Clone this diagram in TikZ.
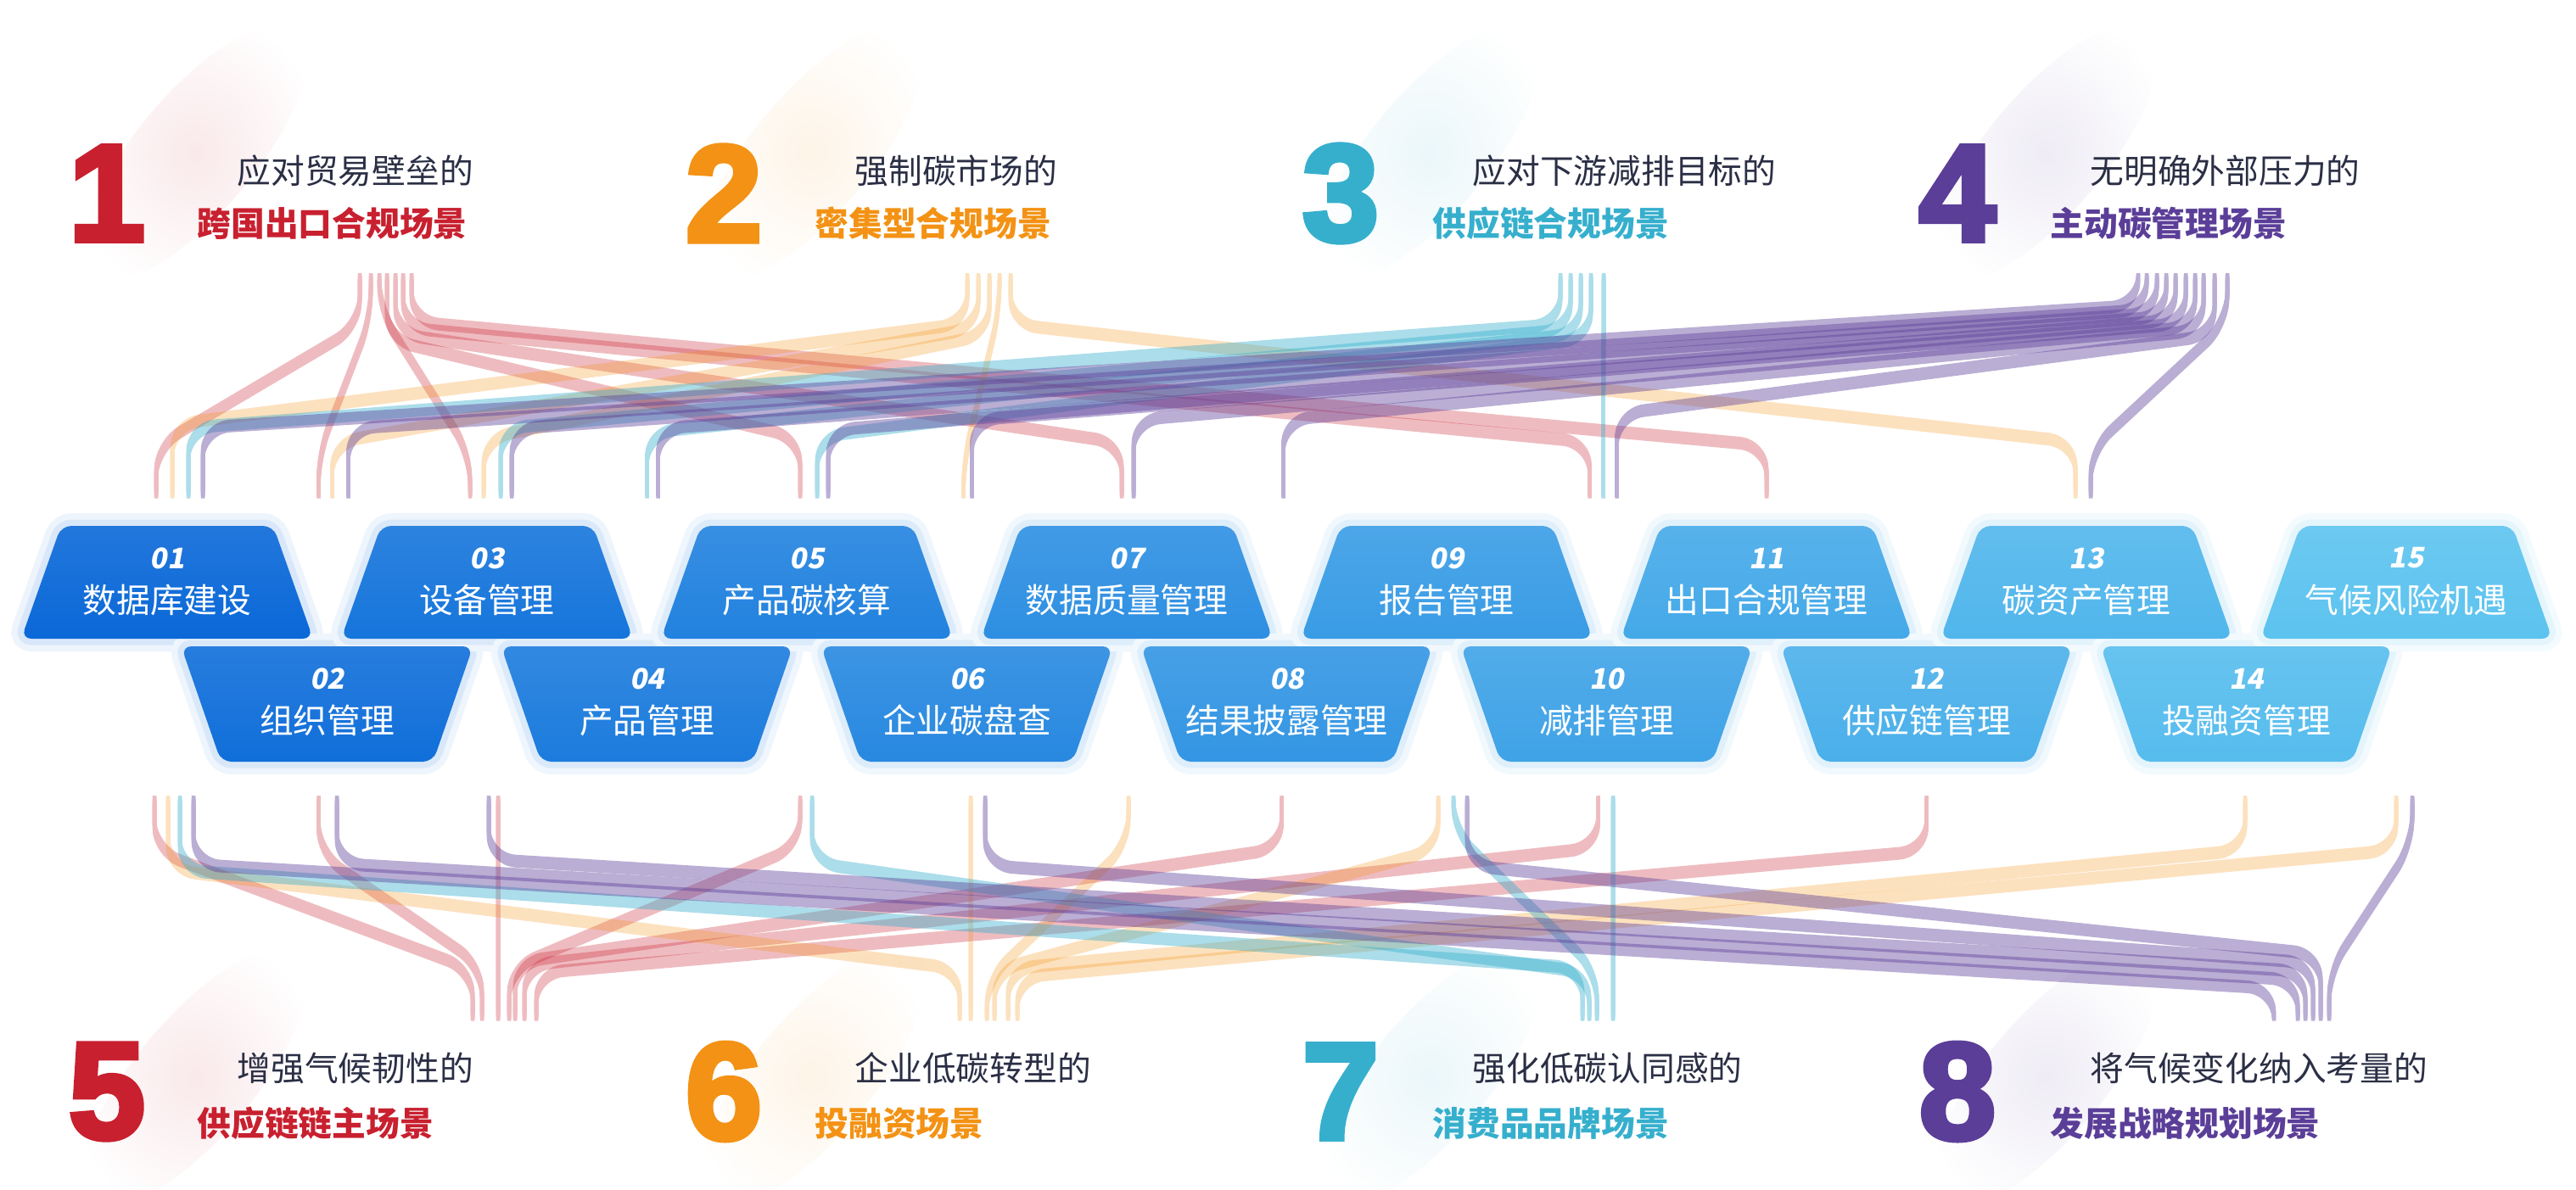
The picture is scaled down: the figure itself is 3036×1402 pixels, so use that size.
\documentclass[tikz,border=0pt]{standalone}
\usepackage{fontspec}
\usepackage{xcolor}
\usepackage{tikz}
\usetikzlibrary{calc}
\setmainfont{Noto Sans CJK SC}
\newfontfamily\numfont{Noto Sans CJK SC}[FakeSlant=0.18, BoldFeatures={FakeSlant=0.18}]
\newfontfamily\bigfont{Liberation Sans Bold}[FakeBold=4]

\definecolor{sred}{HTML}{C8202F}
\definecolor{sorange}{HTML}{F39214}
\definecolor{scyan}{HTML}{36AFCD}
\definecolor{spurple}{HTML}{5B3E98}
\definecolor{txtdark}{HTML}{2B2F45}
\definecolor{boxdark}{HTML}{0A68D8}
\definecolor{boxlight}{HTML}{5CC3EF}

\newcommand\flowband[7]{%
  \coordinate (fa) at ($(#2)+(#3,0)$);
  \coordinate (fb) at ($(#5)+(#6,0)$);
  \coordinate (fc) at (0,#4);
  \coordinate (fd) at (0,#7);
  \begin{scope}[transparency group, f#1]
    \foreach \sh in {0,1.5,3,4.5,6,7.5,9,10.5}
      \draw[flowline, draw=s#1, transform canvas={yshift=-\sh*0.1mm}] (fa) -- (fa |- fc) -- (fb |- fd) -- (fb);
  \end{scope}}

\newcommand\setmod[1]{%
  \pgfmathsetmacro\mx{197+188.5*(#1-1)}%
  \pgfmathsetmacro\mpct{100*(#1-1)/14}%
  \colorlet{boxc}{boxlight!\mpct!boxdark}%
  \ifodd#1\relax \def\mya{620}\def\myb{753}\def\mwa{125}\def\mwb{172}%
  \else \def\mya{762}\def\myb{898}\def\mwa{172}\def\mwb{125}\fi}

\def\modlist{01/数据库建设, 02/组织管理, 03/设备管理, 04/产品管理, 05/产品碳核算, 06/企业碳盘查, 07/数据质量管理, 08/结果披露管理, 09/报告管理, 10/减排管理, 11/出口合规管理, 12/供应链管理, 13/碳资产管理, 14/投融资管理, 15/气候风险机遇}

\begin{document}
\begin{tikzpicture}[x=0.01cm, y=-0.01cm]
\tikzstyle{flowline}=[line width=0.45mm, rounded corners=3.2mm]
\tikzstyle{fred}=[opacity=0.3]
\tikzstyle{forange}=[opacity=0.28]
\tikzstyle{fcyan}=[opacity=0.42]
\tikzstyle{fpurple}=[opacity=0.42]
\tikzstyle{modbox}=[rounded corners=1.2mm]
\tikzstyle{modnum}=[font=\numfont\bfseries\fontsize{9.5pt}{11pt}\selectfont, text=white, inner sep=0pt]
\tikzstyle{modlab}=[font=\fontsize{11.3pt}{13pt}\selectfont, text=white, inner sep=0pt]
\tikzstyle{bignum}=[font=\bigfont\fontsize{46pt}{50pt}\selectfont, inner sep=0pt]
\tikzstyle{scenea}=[font=\fontsize{11.3pt}{13pt}\selectfont, text=txtdark, inner sep=0pt, anchor=west]
\tikzstyle{sceneb}=[font=\fontsize{11.3pt}{13pt}\selectfont\bfseries, inner sep=0pt, anchor=west]

\useasboundingbox (0,0) rectangle (3036,1402);

\foreach \gx/\gy/\gc in {230/180/sred, 957/180/sorange, 1684/180/scyan, 2411/180/spurple, 230/1270/sred, 957/1270/sorange, 1684/1270/scyan, 2411/1270/spurple}
  \shade[inner color=\gc!10, outer color=white, rotate around={50:(\gx,\gy)}] (\gx,\gy) ellipse [x radius=190, y radius=70];

\foreach \mno/\mlab [count=\mi] in \modlist {
  \setmod{\mi}
  \draw[modbox, draw=boxc!7, line width=0.3cm] ({\mx-\mwa},\mya) -- ({\mx+\mwa},\mya) -- ({\mx+\mwb},\myb) -- ({\mx-\mwb},\myb) -- cycle;
  \draw[modbox, draw=boxc!16, line width=0.15cm] ({\mx-\mwa},\mya) -- ({\mx+\mwa},\mya) -- ({\mx+\mwb},\myb) -- ({\mx-\mwb},\myb) -- cycle;
}
\foreach \mno/\mlab [count=\mi] in \modlist {
  \setmod{\mi}
  \shade[modbox, top color=boxc!90!white, bottom color=boxc] ({\mx-\mwa},\mya) -- ({\mx+\mwa},\mya) -- ({\mx+\mwb},\myb) -- ({\mx-\mwb},\myb) -- cycle;
  \node[modnum] (m\mno) at (\mx,{\mya+38}) {\mno};
  \node[modlab] (m\mno-lab) at (\mx,{\mya+87}) {\mlab};
  \coordinate (m\mno-in) at (\mx,577);
  \coordinate (m\mno-out) at (\mx,938);
}

\foreach \sno/\scol/\sla/\slb [count=\sj] in {1/sred/应对贸易壁垒的/跨国出口合规场景, 2/sorange/强制碳市场的/密集型合规场景, 3/scyan/应对下游减排目标的/供应链合规场景, 4/spurple/无明确外部压力的/主动碳管理场景}{
  \pgfmathsetmacro\sx{126+727*(\sj-1)}
  \pgfmathsetmacro\tx{232+728*(\sj-1)}
  \node[bignum, text=\scol] (n\sno) at (\sx,228) {\sno};
  \node[scenea] (t\sno-a) at ({\tx+47},201) {\sla};
  \node[sceneb, text=\scol] (t\sno-b) at (\tx,263) {\slb};
}
\foreach \sno/\scol/\sla/\slb [count=\sj] in {5/sred/增强气候韧性的/供应链链主场景, 6/sorange/企业低碳转型的/投融资场景, 7/scyan/强化低碳认同感的/消费品品牌场景, 8/spurple/将气候变化纳入考量的/发展战略规划场景}{
  \pgfmathsetmacro\sx{126+727*(\sj-1)}
  \pgfmathsetmacro\tx{232+728*(\sj-1)}
  \node[bignum, text=\scol] (n\sno) at (\sx,1287) {\sno};
  \node[scenea] (t\sno-a) at ({\tx+47},1259) {\sla};
  \node[sceneb, text=\scol] (t\sno-b) at (\tx,1324) {\slb};
}

\coordinate (s1) at (454,322);
\coordinate (s2) at (1166,322);
\coordinate (s3) at (1864,322);
\coordinate (s4) at (2572,322);
\coordinate (s5) at (595,1193);
\coordinate (s6) at (1165,1193);
\coordinate (s7) at (1883,1193);
\coordinate (s8) at (2712,1193);

\flowband{red}{s1}{-30}{379}{m01-in}{-13}{521}
\flowband{red}{s1}{-17}{370}{m02-in}{-10}{530}
\flowband{red}{s1}{-7}{360}{m03-in}{-20}{530}
\flowband{red}{s1}{2}{395}{m05-in}{-8}{511}
\flowband{red}{s1}{12}{388}{m07-in}{-6}{517}
\flowband{red}{s1}{21}{381}{m10-in}{-20}{516}
\flowband{red}{s1}{31}{374}{m11-in}{0}{520}

\flowband{orange}{s2}{-26}{376}{m01-in}{6}{495}
\flowband{orange}{s2}{-13}{381}{m02-in}{6}{517}
\flowband{orange}{s2}{0}{389}{m03-in}{-4}{512}
\flowband{orange}{s2}{12}{360}{m06-in}{-4}{540}
\flowband{orange}{s2}{25}{377}{m13-in}{-13}{516}

\flowband{cyan}{s3}{-25}{377}{m01-in}{25}{499}
\flowband{cyan}{s3}{-13}{383}{m03-in}{16}{500}
\flowband{cyan}{s3}{-1}{388}{m04-in}{0}{505}
\flowband{cyan}{s3}{11}{393}{m05-in}{12}{510}
\flowband{cyan}{s3}{26}{400}{m10-in}{-4}{500}

\flowband{purple}{s4}{-52}{355}{m01-in}{42}{499}
\flowband{purple}{s4}{-42}{360}{m02-in}{25}{500}
\flowband{purple}{s4}{-30}{364}{m03-in}{29}{500}
\flowband{purple}{s4}{-19}{368}{m04-in}{13}{500}
\flowband{purple}{s4}{-8}{372}{m05-in}{25}{502}
\flowband{purple}{s4}{4}{376}{m06-in}{6}{490}
\flowband{purple}{s4}{15}{380}{m07-in}{8}{490}
\flowband{purple}{s4}{25}{384}{m08-in}{-4}{490}
\flowband{purple}{s4}{38}{390}{m10-in}{12}{483}
\flowband{purple}{s4}{53}{375}{m13-in}{5}{525}

\flowband{red}{m01-out}{-15}{998}{s5}{-38}{1138}
\flowband{red}{m02-out}{-10}{1001}{s5}{-27}{1134}
\flowband{red}{m03-out}{13}{1000}{s5}{-8}{1140}
\flowband{red}{m05-out}{-8}{992}{s5}{5}{1137}
\flowband{red}{m08-out}{-6}{995}{s5}{12}{1130}
\flowband{red}{m10-out}{-10}{994}{s5}{23}{1133}
\flowband{red}{m12-out}{0}{998}{s5}{37}{1142}

\flowband{orange}{m01-out}{1}{1020}{s6}{-34}{1137}
\flowband{orange}{m06-out}{4.5}{1000}{s6}{-21}{1140}
\flowband{orange}{m07-out}{2}{990}{s6}{-2}{1150}
\flowband{orange}{m09-out}{-10}{996}{s6}{7}{1139}
\flowband{orange}{m14-out}{-1.5}{997}{s6}{23}{1137}
\flowband{orange}{m15-out}{-12}{997}{s6}{34}{1147}

\flowband{cyan}{m01-out}{15}{1021}{s7}{-18}{1136}
\flowband{cyan}{m05-out}{6}{1012}{s7}{-10}{1142}
\flowband{cyan}{m09-out}{8}{975}{s7}{-1}{1140}
\flowband{cyan}{m10-out}{7.5}{1000}{s7}{18}{1140}

\flowband{purple}{m01-out}{31}{1014}{s8}{-32}{1160}
\flowband{purple}{m02-out}{11.5}{1013}{s8}{-4}{1150}
\flowband{purple}{m03-out}{2}{1008}{s8}{5}{1140}
\flowband{purple}{m06-out}{21.5}{1015}{s8}{14}{1130}
\flowband{purple}{m09-out}{24}{1015}{s8}{23}{1120}
\flowband{purple}{m15-out}{7}{990}{s8}{33}{1140}
\end{tikzpicture}
\end{document}
